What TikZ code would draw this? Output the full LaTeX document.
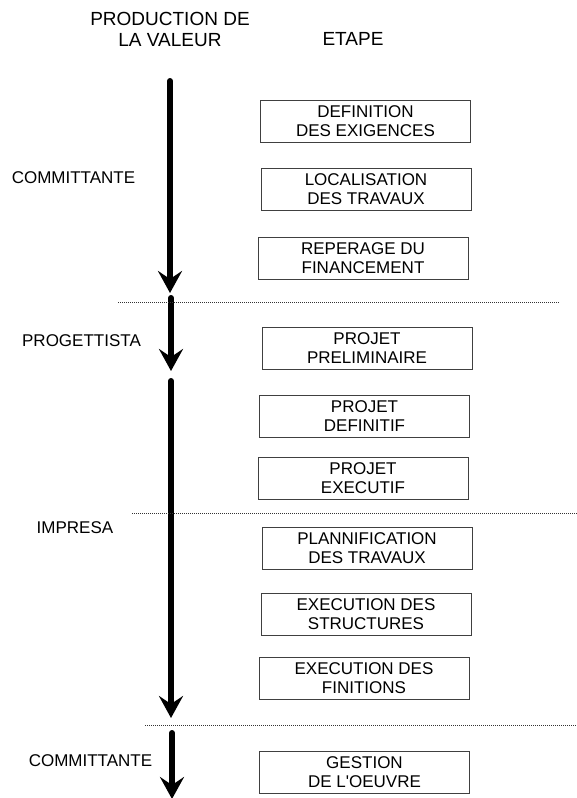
\documentclass[tikz,border=0pt]{standalone}
\usepackage{fontspec}
\setmainfont{Liberation Sans}
\usetikzlibrary{arrows.meta, positioning}

\begin{document}
\begin{tikzpicture}[x=1pt, y=-1pt,
  etape/.style={draw=black!75, line width=0.8pt, minimum width=210pt, minimum height=42pt, align=center, inner sep=0pt, font=\fontsize{17}{19}\selectfont},
  acteur/.style={inner sep=0pt, font=\fontsize{17}{19}\selectfont},
  titre/.style={inner sep=0pt, align=center, font=\fontsize{19}{21}\selectfont},
  fleche/.style={line width=6pt, line cap=round, -{Stealth[length=22pt, width=24pt, inset=8pt]}},
  separation/.style={line width=1pt, draw=black!80, dash pattern=on 1.2pt off 0.8pt}]
  \useasboundingbox (0,0) rectangle (577,798);

  % Titres
  \node[titre] (prod) at (170, 29) {PRODUCTION DE\\LA VALEUR};
  \node[titre] (titreEtape) at (353, 39) {ETAPE};

  % Etapes
  \node[etape] (exig) at (365.5, 121.5) {DEFINITION\\DES EXIGENCES};
  \node[etape] (local) at (366, 189.5) {LOCALISATION\\DES TRAVAUX};
  \node[etape] (financ) at (363, 258) {REPERAGE DU\\FINANCEMENT};
  \node[etape] (prelim) at (367, 348.5) {PROJET\\PRELIMINAIRE};
  \node[etape] (defin) at (364.5, 416.5) {PROJET\\DEFINITIF};
  \node[etape] (execu) at (363, 478.5) {PROJET\\EXECUTIF};
  \node[etape] (planif) at (367, 548) {PLANNIFICATION\\DES TRAVAUX};
  \node[etape] (struct) at (366, 614) {EXECUTION DES\\STRUCTURES};
  \node[etape] (finit) at (364, 678) {EXECUTION DES\\FINITIONS};
  \node[etape] (gestion) at (364.5, 772) {GESTION\\DE L\textquotesingle OEUVRE};

  % Acteurs
  \node[acteur] (comm1) at (73.5, 177.5) {COMMITTANTE};
  \node[acteur] (progett) at (81.5, 341) {PROGETTISTA};
  \node[acteur] (impresa) at (75, 528) {IMPRESA};
  \node[acteur] (comm2) at (90.5, 761) {COMMITTANTE};

  % Fleches
  \coordinate (f1a) at (170, 81);
  \coordinate (f1b) at (170, 293);
  \coordinate (f2a) at (171, 298);
  \coordinate (f2b) at (171, 371);
  \coordinate (f3a) at (171, 381);
  \coordinate (f3b) at (171, 718);
  \coordinate (f4a) at (172, 733);
  \coordinate (f4b) at (172, 799);
  \draw[fleche] (f1a) -- (f1b);
  \draw[fleche] (f2a) -- (f2b);
  \draw[fleche] (f3a) -- (f3b);
  \draw[fleche] (f4a) -- (f4b);

  % Separations
  \coordinate (s1a) at (118, 302);
  \coordinate (s1b) at (559, 302);
  \coordinate (s2a) at (132, 513);
  \coordinate (s2b) at (577, 513);
  \coordinate (s3a) at (145, 725);
  \coordinate (s3b) at (577, 725);
  \draw[separation] (s1a) -- (s1b);
  \draw[separation] (s2a) -- (s2b);
  \draw[separation] (s3a) -- (s3b);
\end{tikzpicture}
\end{document}
